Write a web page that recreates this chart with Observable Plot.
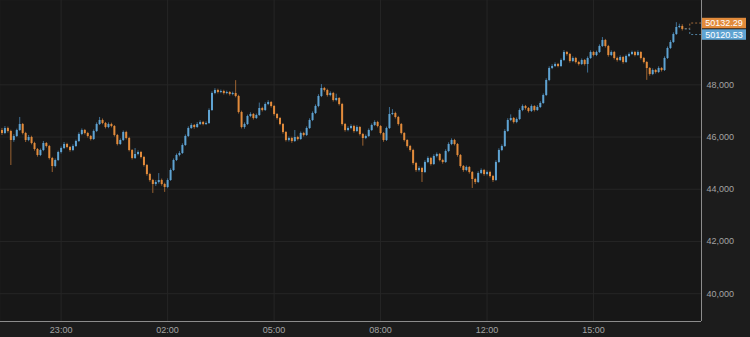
<!DOCTYPE html>
<html>
<head>
<meta charset="utf-8">
<script src="https://cdn.jsdelivr.net/npm/d3@7"></script>
<script src="https://cdn.jsdelivr.net/npm/@observablehq/plot@0.6"></script>
<style>
  html, body { margin: 0; padding: 0; background: #1c1c1c; }
  #chart { width: 750px; height: 337px; }
</style>
</head>
<body>
<div id="chart"></div>
<script>
// 5-minute candles, index 0..230
const opens = [46250,46135,46327,46212,45867,46020,46250,46480,46135,45867,
45982,45752,45522,45292,45484,45752,45637,45178,44871,45101,
45407,45561,45714,45599,45484,45637,45829,46097,46250,46135,
46020,45905,46212,46480,46633,46518,46365,46480,46403,46058,
45714,45867,46173,45944,45484,45178,45331,45407,45216,44909,
44565,44335,44182,44258,44335,44182,44067,44335,44718,45101,
45292,45369,45675,46020,46327,46441,46365,46480,46556,46480,
46518,47016,47667,47782,47705,47744,47667,47705,47629,47667,
47552,46939,46365,46480,46786,46863,46710,46824,47093,47016,
47246,47322,47169,46863,46710,46480,46173,45867,45944,45829,
45982,45905,46135,46058,46327,46633,46901,47169,47552,47859,
47782,47590,47667,47399,47476,47246,46480,46250,46327,46403,
46212,46365,46097,45944,46020,46250,46441,46556,46403,46135,
45867,46327,46863,46901,46748,46480,46135,45867,45637,45484,
44986,44718,44795,44641,45024,45178,44948,45254,45331,45101,
45024,45446,45714,45867,45714,45292,44871,44718,44833,44641,
44373,44258,44603,44718,44565,44641,44488,44335,45024,45484,
45637,46212,46633,46710,46556,46671,47016,47169,47093,46978,
47169,47016,47131,47284,47590,48165,48625,48701,48778,48701,
48931,49237,49161,48893,49008,48854,48778,48931,48778,49008,
49237,49122,49237,49467,49697,49467,49122,49237,49008,48931,
49046,48854,49084,49161,49237,49122,49237,49008,48854,48625,
48395,48548,48471,48625,48548,49008,49391,49620,49927,50195,
50233];
const highs = [46330,46400,46380,46260,46090,46300,46750,46520,46180,46060,
46030,45800,45560,45540,45830,45790,45680,45220,45160,45460,
45620,45790,45760,45640,45700,45880,46160,46310,46290,46180,
46060,46270,46540,46750,46690,46560,46540,46530,46440,46100,
45930,46230,46220,45990,45520,45560,45470,45450,45260,44950,
44610,44380,44330,44600,44390,44230,44400,44780,45160,45350,
45440,45740,46080,46390,46510,46480,46550,46620,46600,46580,
47080,47730,47850,47830,47800,47790,47760,47740,47720,48160,
47600,46990,46540,46840,46930,46900,46880,47300,47140,47310,
47390,47360,47210,46900,46750,46520,46210,46000,45990,46250,
46030,46190,46180,46390,46700,46960,47230,47620,48010,47900,
47830,47730,47710,47640,47510,47290,46520,46390,46470,46450,
46430,46400,46140,46080,46310,46500,46620,46600,46440,46170,
46380,47130,47050,46950,46790,46520,46170,45900,45680,45530,
45030,44860,44840,45090,45240,45220,45320,45390,45370,45150,
45510,45780,45930,45910,45750,45330,44910,44890,44870,44680,
44420,44670,44780,44760,44700,44690,44530,45090,45550,45700,
46280,46700,46850,46750,46730,47080,47230,47210,47130,47230,
47200,47200,47350,47650,48230,48690,48770,48840,48820,48990,
49310,49280,49200,49070,49050,48900,48990,48970,49070,49300,
49280,49290,49530,49810,49740,49510,49300,49280,49060,49110,
49090,49140,49220,49290,49280,49300,49270,49050,48890,48660,
48610,48590,48690,48660,49070,49450,49690,49990,50380,50320,
50300];
const lows = [46060,46090,46150,44910,45800,45980,46210,46080,45790,45820,
45700,45460,45230,45250,45440,45580,45120,44640,44820,45060,
45350,45520,45550,45420,45440,45600,45790,46050,46080,45960,
45850,45870,46170,46440,46470,46310,46320,46350,46000,45660,
45680,45830,45890,45430,45120,45140,45280,45160,44850,44500,
44270,43840,44110,44200,44120,43880,44020,44300,44680,45060,
45240,45330,45640,45980,46290,46300,46330,46440,46430,46440,
46480,46980,47620,47650,47660,47610,47620,47570,47580,47500,
46880,46310,46300,46440,46740,46650,46670,46790,46960,46980,
47200,47110,46800,46650,46430,46110,45810,45810,45760,45790,
45850,45870,46000,46020,46290,46590,46860,47120,47510,47720,
47530,47540,47340,47350,47190,46420,46190,46200,46280,46150,
46170,46040,45650,45900,45980,46210,46400,46350,46080,45800,
45830,46290,46820,46690,46420,46080,45810,45580,45420,44920,
44650,44660,44260,44600,44980,44890,44910,45200,45050,44960,
44990,45400,45670,45660,45230,44810,44650,44670,44580,44030,
44180,44220,44560,44500,44510,44430,44260,44300,44990,45440,
45600,46180,46590,46500,46510,46630,46970,47030,46920,46940,
46960,46980,47090,47250,47550,48120,48580,48660,48650,48660,
48890,49100,48830,48850,48800,48720,48740,48720,48450,48970,
49070,49080,49200,49430,49410,49060,49080,48950,48870,48890,
48790,48820,49040,49120,49070,49090,48950,48800,48170,48330,
48350,48410,48430,48490,48510,48970,49350,49580,49890,50150,
50060];
const closes = [46135,46327,46212,45867,46020,46250,46480,46135,45867,45982,
45752,45522,45292,45484,45752,45637,45178,44871,45101,45407,
45561,45714,45599,45484,45637,45829,46097,46250,46135,46020,
45905,46212,46480,46633,46518,46365,46480,46403,46058,45714,
45867,46173,45944,45484,45178,45331,45407,45216,44909,44565,
44335,44182,44258,44335,44182,44067,44335,44718,45101,45292,
45369,45675,46020,46327,46441,46365,46480,46556,46480,46518,
47016,47667,47782,47705,47744,47667,47705,47629,47667,47552,
46939,46365,46480,46786,46863,46710,46824,47093,47016,47246,
47322,47169,46863,46710,46480,46173,45867,45944,45829,45982,
45905,46135,46058,46327,46633,46901,47169,47552,47859,47782,
47590,47667,47399,47476,47246,46480,46250,46327,46403,46212,
46365,46097,45944,46020,46250,46441,46556,46403,46135,45867,
46327,46863,46901,46748,46480,46135,45867,45637,45484,44986,
44718,44795,44641,45024,45178,44948,45254,45331,45101,45024,
45446,45714,45867,45714,45292,44871,44718,44833,44641,44373,
44258,44603,44718,44565,44641,44488,44335,45024,45484,45637,
46212,46633,46710,46556,46671,47016,47169,47093,46978,47169,
47016,47131,47284,47590,48165,48625,48701,48778,48701,48931,
49237,49161,48893,49008,48854,48778,48931,48778,49008,49237,
49122,49237,49467,49697,49467,49122,49237,49008,48931,49046,
48854,49084,49161,49237,49122,49237,49008,48854,48625,48395,
48548,48471,48625,48548,49008,49391,49620,49927,50195,50233,
50120.53];

const xTickIndex = [20, 56, 92, 128, 164, 200];
const xTickLabels = ["23:00", "02:00", "05:00", "08:00", "12:00", "15:00"];
const yTicks = [40000, 42000, 44000, 46000, 48000];
const lastPrices = [50132.29, 50120.53];
const lastLabels = ["50132.29", "50120.53"];

const UP = "#5fa3d2", DOWN = "#e28b3b";
const UP_W = "#3f7095", DOWN_W = "#9a6231";

const data = closes.map((c, i) => ({i, o: opens[i], h: highs[i], l: lows[i], c}));

const yDomain = [38935, 51229];
const xDomain = [-0.5, 236.5];

const plot = Plot.plot({
  width: 750,
  height: 337,
  marginLeft: 0,
  marginRight: 49,
  marginTop: 0,
  marginBottom: 16,
  style: {background: "#1c1c1c", color: "#a3a3a3", fontFamily: "'Liberation Sans', Arial, sans-serif", fontSize: "9px"},
  x: {domain: xDomain, axis: null, label: null},
  y: {domain: yDomain, axis: null, label: null},
  marks: [
    Plot.frame({fill: "#171717"}),
    Plot.gridY(yTicks, {stroke: "#262626", strokeOpacity: 1}),
    Plot.gridX(xTickIndex, {stroke: "#262626", strokeOpacity: 1}),
    Plot.ruleX(data, {x: "i", y1: "l", y2: "h", stroke: d => d.c >= d.o ? UP_W : DOWN_W, strokeWidth: 1}),
    Plot.ruleX(data, {x: "i", y1: "o", y2: "c", stroke: d => d.c >= d.o ? UP : DOWN, strokeWidth: 2}),
    Plot.ruleX([xDomain[1]], {stroke: "#8c8c8c", strokeWidth: 1}),
    Plot.ruleY([yDomain[0]], {stroke: "#8c8c8c", strokeWidth: 1}),
    Plot.axisX({ticks: xTickIndex, tickFormat: d => xTickLabels[xTickIndex.indexOf(d)], tickSize: 0, tickPadding: 5, fill: "#a3a3a3", label: null}),
    Plot.axisY({anchor: "right", ticks: yTicks, tickFormat: d3.format(","), tickSize: 0, tickPadding: 5, fill: "#a3a3a3", label: null})
  ]
});

document.getElementById("chart").appendChild(plot);

// last-price labels with dashed leaders
const ys = plot.scale("y"), xs = plot.scale("x");
const svg = d3.select(plot);
const xLast = xs.apply(data.length - 1);
const xRight = xs.apply(xDomain[1]);
const yMid = (ys.apply(lastPrices[0]) + ys.apply(lastPrices[1])) / 2;
const boxH = 11.5;
const boxYs = [yMid - boxH, yMid];
const boxCols = [DOWN, UP];
const dashCols = ["#a06a3a", "#4f7f9f"];
lastPrices.forEach((p, k) => {
  const yp = ys.apply(p);
  const yc = boxYs[k] + boxH / 2;
  svg.append("path")
    .attr("d", `M${xLast + 3},${yp}H${xLast + 8}V${yc}H${xRight}`)
    .attr("fill", "none").attr("stroke", dashCols[k])
    .attr("stroke-width", 1).attr("stroke-dasharray", "2,2");
  svg.append("rect")
    .attr("x", xRight + 1).attr("y", boxYs[k] + 0.5)
    .attr("width", 44).attr("height", boxH - 1)
    .attr("fill", boxCols[k]);
  svg.append("text")
    .attr("x", xRight + 1 + 22).attr("y", yc)
    .attr("dy", "0.35em").attr("text-anchor", "middle")
    .attr("fill", "#ffffff").attr("font-size", "9px")
    .attr("font-family", "'Liberation Sans', Arial, sans-serif")
    .text(lastLabels[k]);
});
</script>
</body>
</html>
